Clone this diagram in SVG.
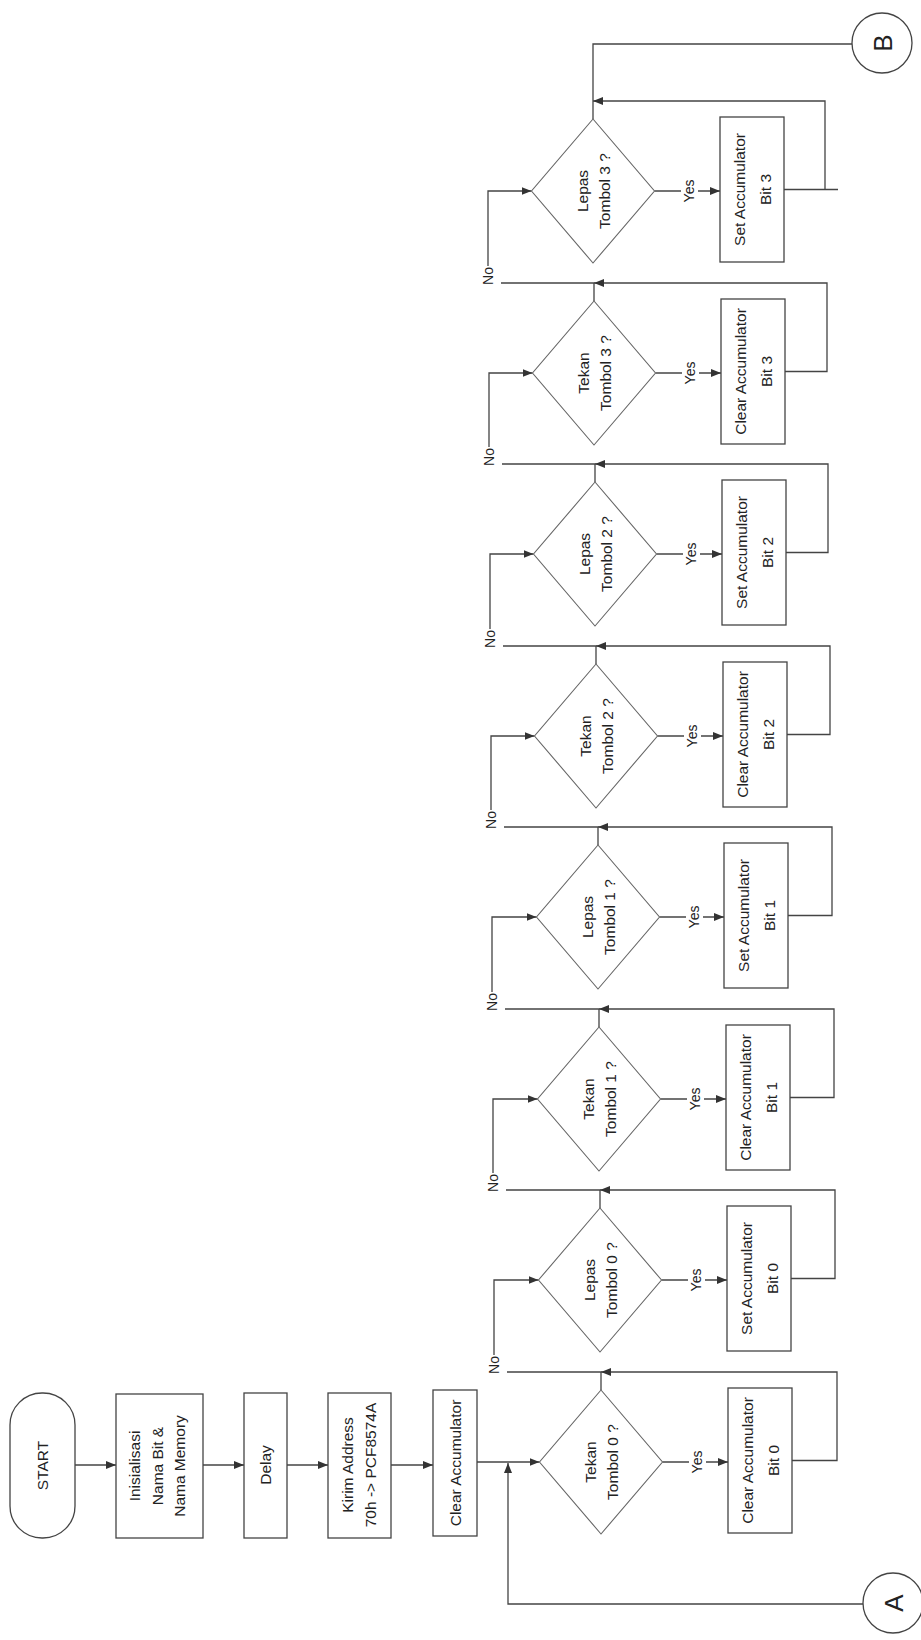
<svg xmlns="http://www.w3.org/2000/svg" width="921" height="1640" viewBox="0 0 921 1640">
<style>
.bx{fill:#fff;stroke:#444;stroke-width:1.3}
.dm{fill:#fff;stroke:#666;stroke-width:1.1}
.ln{fill:none;stroke:#444;stroke-width:1.3}
.ar{marker-end:url(#arr)}
text{font-family:"Liberation Sans",Arial,sans-serif;fill:#222;text-anchor:middle}
.t{font-size:15.5px}
.s{font-size:14px}
.c{font-size:26px}
.wb{fill:#fff;stroke:none}
</style>
<defs>
<marker id="arr" viewBox="0 0 10 8" refX="10" refY="4" markerWidth="10" markerHeight="8" markerUnits="userSpaceOnUse" orient="auto">
<path d="M0,0 L10,4 L0,8 z" fill="#333"/>
</marker>
</defs>
<rect width="921" height="1640" fill="#fff"/>

<g id="connectors">
<path class="ln ar" d="M75,1465 H116"/>
<path class="ln ar" d="M203,1465 H244"/>
<path class="ln ar" d="M287,1465 H328"/>
<path class="ln ar" d="M391,1465 H433"/>
<path class="ln ar" d="M477,1462 H539.5"/>
<path class="ln ar" d="M863,1604 H508 V1463"/>

<path class="ln ar" d="M662.5,1462 H728"/>
<path class="ln ar" d="M792,1460.5 H837 V1372 H601"/>
<path class="ln" d="M601,1390 V1372 H507"/>
<path class="ln ar" d="M494,1355 V1280 H538.5"/>

<path class="ln ar" d="M661.5,1280 H727"/>
<path class="ln ar" d="M791,1278.5 H835 V1190 H600"/>
<path class="ln" d="M600,1208 V1190 H506"/>
<path class="ln ar" d="M493,1173 V1099 H537.5"/>

<path class="ln ar" d="M660.5,1099 H726"/>
<path class="ln ar" d="M790,1097.5 H834 V1009 H599"/>
<path class="ln" d="M599,1027 V1009 H505"/>
<path class="ln ar" d="M492,992 V917 H536.5"/>

<path class="ln ar" d="M659.5,917 H724"/>
<path class="ln ar" d="M788,915.5 H832 V827 H598"/>
<path class="ln" d="M598,845 V827 H504"/>
<path class="ln ar" d="M491,810 V736 H534.5"/>

<path class="ln ar" d="M657.5,736 H723"/>
<path class="ln ar" d="M787,734.5 H830 V646 H596"/>
<path class="ln" d="M596,664 V646 H503"/>
<path class="ln ar" d="M490,629 V554 H533.5"/>

<path class="ln ar" d="M656.5,554 H722"/>
<path class="ln ar" d="M786,552.5 H828 V464 H595"/>
<path class="ln" d="M595,482 V464 H502"/>
<path class="ln ar" d="M489,447 V373 H532.5"/>

<path class="ln ar" d="M655.5,373 H721"/>
<path class="ln ar" d="M785,371.5 H827 V283 H594"/>
<path class="ln" d="M594,301 V283 H501"/>
<path class="ln ar" d="M488,266 V191 H531.5"/>

<path class="ln ar" d="M654.5,191 H720"/>
<path class="ln" d="M784,189.5 H838"/>
<path class="ln ar" d="M825,189.5 V101 H593"/>
<path class="ln" d="M593,119 V44 H852"/>

<g id="labels">
<rect class="wb" x="689" y="1447" width="17" height="30"/>
<text class="s" transform="translate(697,1462) rotate(-90)" y="5">Yes</text>
<rect class="wb" x="688" y="1265" width="17" height="30"/>
<text class="s" transform="translate(696,1280) rotate(-90)" y="5">Yes</text>
<rect class="wb" x="687" y="1084" width="17" height="30"/>
<text class="s" transform="translate(695,1099) rotate(-90)" y="5">Yes</text>
<rect class="wb" x="686" y="902" width="17" height="30"/>
<text class="s" transform="translate(694,917) rotate(-90)" y="5">Yes</text>
<rect class="wb" x="684" y="721" width="17" height="30"/>
<text class="s" transform="translate(692,736) rotate(-90)" y="5">Yes</text>
<rect class="wb" x="683" y="539" width="17" height="30"/>
<text class="s" transform="translate(691,554) rotate(-90)" y="5">Yes</text>
<rect class="wb" x="682" y="358" width="17" height="30"/>
<text class="s" transform="translate(690,373) rotate(-90)" y="5">Yes</text>
<rect class="wb" x="681" y="176" width="17" height="30"/>
<text class="s" transform="translate(689,191) rotate(-90)" y="5">Yes</text>

<text class="s" transform="translate(494,1365) rotate(-90)" y="5">No</text>
<text class="s" transform="translate(493,1183) rotate(-90)" y="5">No</text>
<text class="s" transform="translate(492,1002) rotate(-90)" y="5">No</text>
<text class="s" transform="translate(491,820) rotate(-90)" y="5">No</text>
<text class="s" transform="translate(490,639) rotate(-90)" y="5">No</text>
<text class="s" transform="translate(489,457) rotate(-90)" y="5">No</text>
<text class="s" transform="translate(488,276) rotate(-90)" y="5">No</text>
</g>
</g>

<g id="start">
<rect class="bx" x="10" y="1393" width="65" height="145" rx="32" ry="32"/>
<text class="t" transform="translate(42.5,1465.5) rotate(-90)" y="5.5">START</text>
</g>
<g id="init">
<rect class="bx" x="116" y="1394" width="87" height="144"/>
<text class="t" transform="translate(159.5,1466) rotate(-90)"><tspan x="0" y="-20">Inisialisasi</tspan><tspan x="0" y="3">Nama Bit &amp;</tspan><tspan x="0" y="25">Nama Memory</tspan></text>
</g>
<g id="delay">
<rect class="bx" x="244" y="1393" width="43" height="145"/>
<text class="t" transform="translate(265.5,1465) rotate(-90)" y="5.5">Delay</text>
</g>
<g id="kirim">
<rect class="bx" x="328" y="1393" width="63" height="145"/>
<text class="t" transform="translate(359.5,1465) rotate(-90)"><tspan x="0" y="-7">Kirim Address</tspan><tspan x="0" y="16">70h -&gt; PCF8574A</tspan></text>
</g>
<g id="clear_acc">
<rect class="bx" x="433" y="1390" width="44" height="146"/>
<text class="t" transform="translate(455,1463) rotate(-90)" y="5.5">Clear Accumulator</text>
</g>

<g id="d0">
<polygon class="dm" points="601,1390 662.5,1462 601,1534 539.5,1462"/>
<text class="t" transform="translate(601,1462) rotate(-90)"><tspan x="0" y="-5.5">Tekan</tspan><tspan x="0" y="16.5">Tombol 0 ?</tspan></text>
</g>
<g id="p0">
<rect class="bx" x="728" y="1388" width="64" height="145"/>
<text class="t" transform="translate(760,1460.5) rotate(-90)"><tspan x="0" y="-7">Clear Accumulator</tspan><tspan x="0" y="19">Bit 0</tspan></text>
</g>

<g id="d1">
<polygon class="dm" points="600,1208 661.5,1280 600,1352 538.5,1280"/>
<text class="t" transform="translate(600,1280) rotate(-90)"><tspan x="0" y="-5.5">Lepas</tspan><tspan x="0" y="16.5">Tombol 0 ?</tspan></text>
</g>
<g id="p1">
<rect class="bx" x="727" y="1206" width="64" height="145"/>
<text class="t" transform="translate(759,1278.5) rotate(-90)"><tspan x="0" y="-7">Set Accumulator</tspan><tspan x="0" y="19">Bit 0</tspan></text>
</g>

<g id="d2">
<polygon class="dm" points="599,1027 660.5,1099 599,1171 537.5,1099"/>
<text class="t" transform="translate(599,1099) rotate(-90)"><tspan x="0" y="-5.5">Tekan</tspan><tspan x="0" y="16.5">Tombol 1 ?</tspan></text>
</g>
<g id="p2">
<rect class="bx" x="726" y="1025" width="64" height="145"/>
<text class="t" transform="translate(758,1097.5) rotate(-90)"><tspan x="0" y="-7">Clear Accumulator</tspan><tspan x="0" y="19">Bit 1</tspan></text>
</g>

<g id="d3">
<polygon class="dm" points="598,845 659.5,917 598,989 536.5,917"/>
<text class="t" transform="translate(598,917) rotate(-90)"><tspan x="0" y="-5.5">Lepas</tspan><tspan x="0" y="16.5">Tombol 1 ?</tspan></text>
</g>
<g id="p3">
<rect class="bx" x="724" y="843" width="64" height="145"/>
<text class="t" transform="translate(756,915.5) rotate(-90)"><tspan x="0" y="-7">Set Accumulator</tspan><tspan x="0" y="19">Bit 1</tspan></text>
</g>

<g id="d4">
<polygon class="dm" points="596,664 657.5,736 596,808 534.5,736"/>
<text class="t" transform="translate(596,736) rotate(-90)"><tspan x="0" y="-5.5">Tekan</tspan><tspan x="0" y="16.5">Tombol 2 ?</tspan></text>
</g>
<g id="p4">
<rect class="bx" x="723" y="662" width="64" height="145"/>
<text class="t" transform="translate(755,734.5) rotate(-90)"><tspan x="0" y="-7">Clear Accumulator</tspan><tspan x="0" y="19">Bit 2</tspan></text>
</g>

<g id="d5">
<polygon class="dm" points="595,482 656.5,554 595,626 533.5,554"/>
<text class="t" transform="translate(595,554) rotate(-90)"><tspan x="0" y="-5.5">Lepas</tspan><tspan x="0" y="16.5">Tombol 2 ?</tspan></text>
</g>
<g id="p5">
<rect class="bx" x="722" y="480" width="64" height="145"/>
<text class="t" transform="translate(754,552.5) rotate(-90)"><tspan x="0" y="-7">Set Accumulator</tspan><tspan x="0" y="19">Bit 2</tspan></text>
</g>

<g id="d6">
<polygon class="dm" points="594,301 655.5,373 594,445 532.5,373"/>
<text class="t" transform="translate(594,373) rotate(-90)"><tspan x="0" y="-5.5">Tekan</tspan><tspan x="0" y="16.5">Tombol 3 ?</tspan></text>
</g>
<g id="p6">
<rect class="bx" x="721" y="299" width="64" height="145"/>
<text class="t" transform="translate(753,371.5) rotate(-90)"><tspan x="0" y="-7">Clear Accumulator</tspan><tspan x="0" y="19">Bit 3</tspan></text>
</g>

<g id="d7">
<polygon class="dm" points="593,119 654.5,191 593,263 531.5,191"/>
<text class="t" transform="translate(593,191) rotate(-90)"><tspan x="0" y="-5.5">Lepas</tspan><tspan x="0" y="16.5">Tombol 3 ?</tspan></text>
</g>
<g id="p7">
<rect class="bx" x="720" y="117" width="64" height="145"/>
<text class="t" transform="translate(752,189.5) rotate(-90)"><tspan x="0" y="-7">Set Accumulator</tspan><tspan x="0" y="19">Bit 3</tspan></text>
</g>

<g id="conn_a">
<circle class="bx" cx="893" cy="1603" r="30"/>
<text class="c" transform="translate(893,1603) rotate(-90)" y="9.5">A</text>
</g>
<g id="conn_b">
<circle class="bx" cx="882" cy="43" r="30"/>
<text class="c" transform="translate(882,43) rotate(-90)" y="9.5">B</text>
</g>
</svg>
